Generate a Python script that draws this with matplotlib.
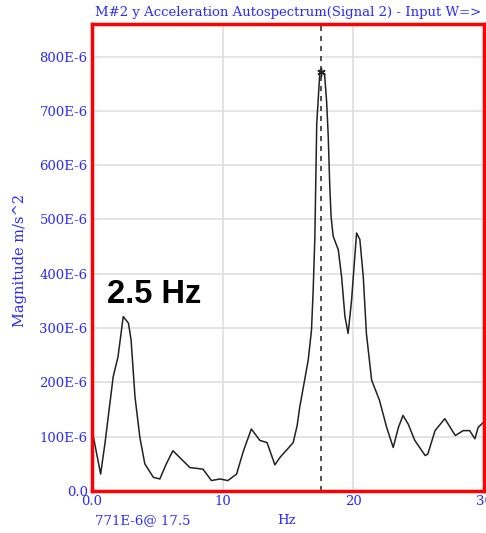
import matplotlib
matplotlib.use("Agg")
import matplotlib.pyplot as plt

# autospectrum trace (Hz, magnitude in E-6 m/s^2)
freq = [0.1, 0.67, 1.0, 1.63, 2.0, 2.4, 2.8, 3.0, 3.3, 3.67, 4.05, 4.7, 5.2, 5.7,
        6.2, 6.7, 7.5, 8.5, 9.15, 9.8, 10.4, 11.07, 11.6, 12.2, 12.85, 13.4, 14.0,
        14.4, 15.0, 15.4, 15.7, 15.9, 16.55, 16.8, 16.93, 17.06, 17.2, 17.45, 17.8,
        17.96, 18.08, 18.2, 18.3, 18.46, 18.85, 19.1, 19.36, 19.6, 19.87, 20.0,
        20.25, 20.5, 20.76, 21.0, 21.4, 22.0, 22.55, 23.05, 23.45, 23.8, 24.2,
        24.7, 25.5, 25.7, 26.25, 27.0, 27.8, 28.4, 28.9, 29.3, 29.55, 29.95]
mag = [102, 31, 87, 210, 247, 321, 309, 278, 173, 99, 50, 25, 22, 50,
       74, 62, 43, 40, 19, 22, 19, 31, 74, 114, 93, 89, 48,
       62, 78, 89, 120, 154, 241, 296, 370, 469, 676, 775, 768,
       716, 654, 560, 505, 469, 444, 395, 321, 290, 352, 395,
       475, 463, 395, 290, 204, 167, 117, 80, 117, 139, 123,
       93, 65, 68, 111, 133, 102, 111, 111, 96, 117, 126]

ytick_vals = [0, 100, 200, 300, 400, 500, 600, 700, 800]
ytick_labels = ["0.0", "100E-6", "200E-6", "300E-6", "400E-6", "500E-6",
                "600E-6", "700E-6", "800E-6"]
xtick_vals = [0, 10, 20, 30]
xtick_labels = ["0.0", "10", "20", "30"]

cursor_f = 17.5
cursor_mag = 771

blue = "#2a2aff"
serif = "DejaVu Serif"

fig = plt.figure(figsize=(4.86, 5.33), dpi=100)
ax = fig.add_axes([0.189, 0.079, 0.807, 0.876])

ax.plot(freq, mag, color="#222222", lw=1.1)
ax.axvline(cursor_f, color="#333333", lw=1.2, ls=(0, (3, 3)))
ax.plot([cursor_f], [cursor_mag], marker=(6, 2, 0), color="#222222", ms=6, mew=1)

ax.set_xlim(0, 30)
ax.set_ylim(0, 860)
ax.set_xticks(xtick_vals)
ax.set_xticklabels(xtick_labels)
ax.set_yticks(ytick_vals)
ax.set_yticklabels(ytick_labels)
ax.tick_params(length=0, colors=blue, labelsize=9.5, pad=3)
for lab in ax.get_xticklabels() + ax.get_yticklabels():
    lab.set_fontfamily(serif)

ax.grid(True, color="#e2e2e2", lw=1.3)
ax.set_axisbelow(True)
for s in ax.spines.values():
    s.set_color("#ff0000")
    s.set_linewidth(2.5)

ax.text(1.15, 347, "2.5 Hz", fontsize=23.5, fontweight="bold",
        fontfamily="Liberation Sans", color="black", ha="left", va="baseline")

fig.text(0.195, 0.977, "M#2 y Acceleration Autospectrum(Signal 2) - Input W=>",
         color=blue, fontsize=9.5, fontfamily=serif, ha="left", va="center")
fig.text(0.042, 0.512, "Magnitude m/s^2", color=blue, fontsize=10.5,
         fontfamily=serif, rotation=90, ha="center", va="center")
fig.text(0.195, 0.024, "771E-6@ 17.5", color=blue, fontsize=9.5,
         fontfamily=serif, ha="left", va="center")
fig.text(0.59, 0.024, "Hz", color=blue, fontsize=9.5,
         fontfamily=serif, ha="center", va="center")

fig.savefig("out.png", dpi=100)
